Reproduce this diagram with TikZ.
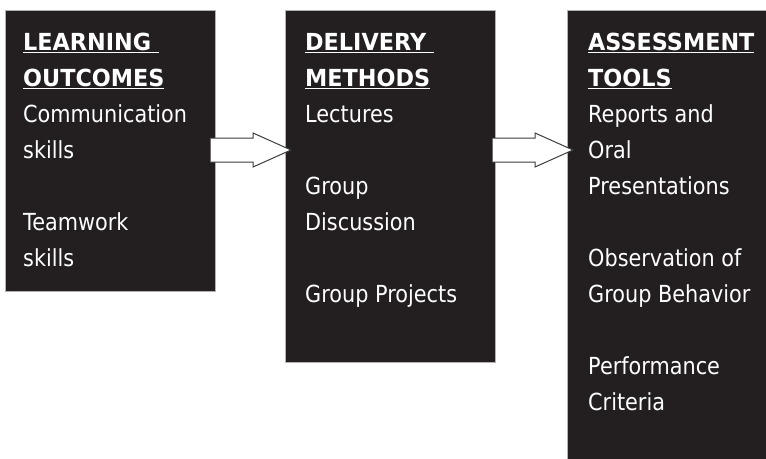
\documentclass[tikz,border=0pt]{standalone}
\usepackage{fontspec}
\usetikzlibrary{calc}
\setmainfont{DejaVu Sans}[FakeStretch=0.885]
\newfontfamily\hdfont{DejaVu Sans}[FakeStretch=0.95]
\definecolor{boxc}{HTML}{231F20}
\definecolor{arrc}{HTML}{3C3C3C}
\newcommand\hd[1]{\setbox0\hbox{\hdfont\bfseries #1}\rlap{\raisebox{-3.3pt}{\color{white}\rule{\wd0}{1.7pt}}}\box0}
\begin{document}
\begin{tikzpicture}[x=1pt,y=-1pt,
  box/.style={fill=boxc, draw=gray!60, line width=0.5pt, inner sep=0pt, anchor=north west},
  txt/.style={text=white, inner sep=0pt, anchor=base west, font=\fontsize{23.5}{28}\selectfont},
  arrfill/.style={fill=white},
  arrline/.style={draw=arrc, line width=1pt, line join=miter}]
\useasboundingbox (0,0) rectangle (766,458);
\node[box, minimum width=210pt, minimum height=281pt] (b1) at (5,10) {};
\node[box, minimum width=210pt, minimum height=352pt] (b2) at (285,10) {};
\node[box, minimum width=205pt, minimum height=455pt] (b3) at (567,10) {};
% texts
\foreach \i/\t in {0/{\hd{LEARNING\ }}, 1/{\hd{OUTCOMES}}, 2/Communication, 3/skills, 5/Teamwork, 6/skills}
  \node[txt] (l\i) at (23,{50+36*\i}) {\t};
\foreach \i/\t in {0/{\hd{DELIVERY\ }}, 1/{\hd{METHODS}}, 2/Lectures, 4/Group, 5/Discussion, 7/Group Projects}
  \node[txt] (m\i) at (305,{50+36*\i}) {\t};
\foreach \i/\t in {0/{\hd{ASSESSMENT}}, 1/{\hd{TOOLS}}, 2/Reports and, 3/Oral, 4/Presentations, 6/Observation of, 7/Group Behavior, 9/Performance, 10/Criteria}
  \node[txt] (r\i) at (588,{50+36*\i}) {\t};
% arrows
\coordinate (a1s) at ($(b1.north east)+(-5,140)$);
\coordinate (a1t) at ($(b2.north west)+(6,140)$);
\coordinate (a2s) at ($(b2.north east)+(-3,140)$);
\coordinate (a2t) at ($(b3.north west)+(6,140)$);
\foreach \s/\e in {a1s/a1t, a2s/a2t}{
  \fill[arrfill] ($(\s)+(0,-12)$) -| ($(\e)+(-38,-17)$) -- (\e) -- ($(\e)+(-38,17)$) |- ($(\s)+(0,12)$) -- cycle;
  \draw[arrline] ($(\s)+(0,-12)$) -| ($(\e)+(-38,-17)$) -- (\e) -- ($(\e)+(-38,17)$) |- ($(\s)+(0,12)$);
}
\end{tikzpicture}
\end{document}
